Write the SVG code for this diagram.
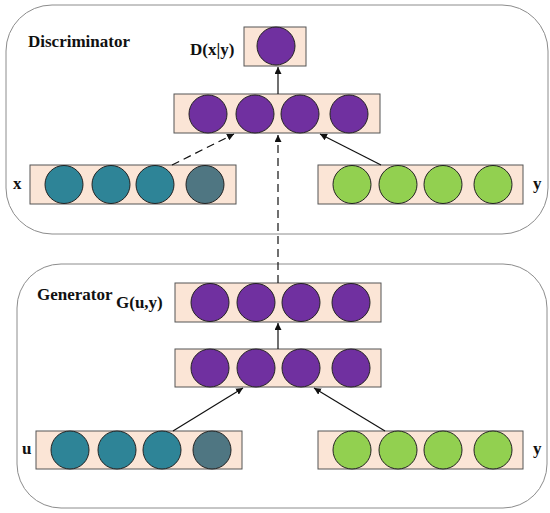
<svg xmlns="http://www.w3.org/2000/svg" width="550" height="513" viewBox="0 0 550 513">
<defs>
<style>
.panel{fill:#ffffff;stroke:#8c8c8c;stroke-width:1}
.box{fill:#fbe5d6;stroke:#555555;stroke-width:1}
.c{stroke:#222222;stroke-width:1}
.p{fill:#7030a0}
.t{fill:#2e8497}
.g{fill:#4f7682}
.l{fill:#92d050}
.lbl{font-family:"Liberation Serif","Times New Roman",serif;font-weight:bold;font-size:17px;fill:#111111}
.e{stroke:#111111;stroke-width:1.2;fill:none}
.d{stroke-dasharray:8 5}
</style>
<marker id="ah" viewBox="0 0 10 10" refX="10" refY="5" markerWidth="7" markerHeight="7" orient="auto" markerUnits="userSpaceOnUse"><path d="M0,0 L10,5 L0,10 z" fill="#111111"/></marker>
</defs>
<g id="discriminator-panel">
<rect class="panel" x="6" y="5" width="542" height="229" rx="46" ry="46"/>
<text class="lbl" x="28" y="47">Discriminator</text>
</g>
<g id="generator-panel">
<rect class="panel" x="17" y="264" width="530" height="244" rx="44" ry="44"/>
<text class="lbl" x="37" y="300">Generator</text>
</g>
<g id="d-output">
<rect class="box" x="244" y="27" width="62" height="39"/>
<circle class="c p" cx="276" cy="46" r="19"/>
<text class="lbl" x="190" y="55">D(x|y)</text>
</g>
<g id="d-hidden">
<rect class="box" x="174" y="94" width="206" height="39"/>
<circle class="c p" cx="208" cy="114" r="19"/>
<circle class="c p" cx="255" cy="114" r="19"/>
<circle class="c p" cx="300" cy="114" r="19"/>
<circle class="c p" cx="349" cy="114" r="19"/>
</g>
<g id="d-input-x">
<rect class="box" x="30" y="165" width="206" height="39"/>
<circle class="c t" cx="64" cy="184.5" r="19"/>
<circle class="c t" cx="111" cy="184.5" r="19"/>
<circle class="c t" cx="155" cy="184.5" r="19"/>
<circle class="c g" cx="205" cy="184.5" r="19"/>
<text class="lbl" x="13" y="189">x</text>
</g>
<g id="d-input-y">
<rect class="box" x="318" y="165" width="205" height="39"/>
<circle class="c l" cx="352" cy="184.5" r="19"/>
<circle class="c l" cx="398" cy="184.5" r="19"/>
<circle class="c l" cx="443" cy="184.5" r="19"/>
<circle class="c l" cx="493" cy="184.5" r="19"/>
<text class="lbl" x="533" y="189">y</text>
</g>
<g id="g-output">
<rect class="box" x="175" y="283" width="206" height="39"/>
<circle class="c p" cx="210" cy="302.5" r="19"/>
<circle class="c p" cx="256" cy="302.5" r="19"/>
<circle class="c p" cx="301" cy="302.5" r="19"/>
<circle class="c p" cx="351" cy="302.5" r="19"/>
<text class="lbl" x="116" y="308">G(u,y)</text>
</g>
<g id="g-hidden">
<rect class="box" x="175" y="349" width="206" height="38"/>
<circle class="c p" cx="210" cy="368" r="19"/>
<circle class="c p" cx="256" cy="368" r="19"/>
<circle class="c p" cx="301" cy="368" r="19"/>
<circle class="c p" cx="351" cy="368" r="19"/>
</g>
<g id="g-input-u">
<rect class="box" x="36" y="431" width="206" height="38"/>
<circle class="c t" cx="70" cy="450" r="19"/>
<circle class="c t" cx="117" cy="450" r="19"/>
<circle class="c t" cx="162" cy="450" r="19"/>
<circle class="c g" cx="212" cy="450" r="19"/>
<text class="lbl" x="22" y="454">u</text>
</g>
<g id="g-input-y">
<rect class="box" x="318" y="431" width="205" height="38"/>
<circle class="c l" cx="352" cy="450" r="19"/>
<circle class="c l" cx="398" cy="450" r="19"/>
<circle class="c l" cx="443" cy="450" r="19"/>
<circle class="c l" cx="493" cy="450" r="19"/>
<text class="lbl" x="533" y="454">y</text>
</g>
<g id="connectors">
<line class="e" x1="278" y1="94" x2="278" y2="67" marker-end="url(#ah)"/>
<line class="e d" x1="172" y1="165" x2="234" y2="134" marker-end="url(#ah)"/>
<line class="e" x1="381" y1="165" x2="320" y2="134" marker-end="url(#ah)"/>
<line class="e d" x1="278" y1="283" x2="278" y2="135" marker-end="url(#ah)"/>
<line class="e" x1="278" y1="349" x2="278" y2="323" marker-end="url(#ah)"/>
<line class="e" x1="173" y1="431" x2="243" y2="388" marker-end="url(#ah)"/>
<line class="e" x1="385" y1="431" x2="314" y2="388" marker-end="url(#ah)"/>
</g>
</svg>
